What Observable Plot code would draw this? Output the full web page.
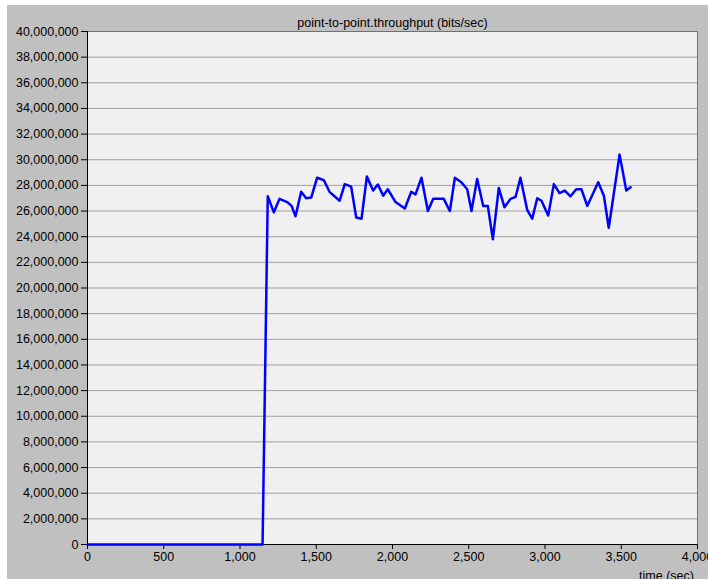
<!DOCTYPE html>
<html><head><meta charset="utf-8">
<script src="https://cdn.jsdelivr.net/npm/d3@7"></script>
<script src="https://cdn.jsdelivr.net/npm/@observablehq/plot@0.6"></script>
<style>
body{margin:0;background:#fff;}
#wrap{position:relative;width:708px;height:579px;background:#fff;overflow:hidden}
#chart{position:absolute;left:7px;top:5px;}
</style></head><body><div id="wrap"><div id="chart"></div></div>
<script>
const chartTitle = "point-to-point.throughput (bits/sec)";
const xLabel = "time (sec)";
const times = [0, 1148, 1182, 1222, 1259, 1310, 1338, 1364, 1401, 1434, 1467, 1506, 1550, 1587, 1653, 1687, 1729, 1762, 1797, 1832, 1873, 1904, 1939, 1969, 2020, 2081, 2123, 2151, 2190, 2232, 2267, 2336, 2376, 2409, 2451, 2490, 2518, 2555, 2595, 2625, 2658, 2697, 2734, 2774, 2807, 2839, 2883, 2916, 2949, 2977, 3021, 3058, 3095, 3130, 3167, 3205, 3239, 3277, 3349, 3386, 3418, 3489, 3533, 3561];
const throughput = [0, 0, 27160000, 25900000, 26950000, 26700000, 26400000, 25600000, 27500000, 27000000, 27050000, 28600000, 28400000, 27500000, 26800000, 28100000, 27900000, 25500000, 25400000, 28700000, 27600000, 28070000, 27200000, 27700000, 26700000, 26200000, 27500000, 27300000, 28600000, 26000000, 26950000, 26950000, 26000000, 28600000, 28250000, 27700000, 26000000, 28500000, 26400000, 26400000, 23800000, 27800000, 26300000, 26950000, 27100000, 28600000, 26100000, 25400000, 27000000, 26800000, 25650000, 28100000, 27400000, 27600000, 27150000, 27700000, 27700000, 26400000, 28250000, 27200000, 24700000, 30400000, 27600000, 27850000];
const xTicks = [0, 500, 1000, 1500, 2000, 2500, 3000, 3500, 4000];
const yTicks = d3.range(0, 40000001, 2000000);

const data = times.map((t, i) => ({t, v: throughput[i]}));
const fmt = d3.format(",");

const chart = Plot.plot({
  width: 701,
  height: 574,
  marginLeft: 80,
  marginRight: 11,
  marginTop: 26,
  marginBottom: 35,
  style: {background: "#c0c0c0", fontFamily: "Liberation Sans, Arial, sans-serif", fontSize: "12.5px", color: "#000", overflow: "visible"},
  x: {domain: [0, 4000]},
  y: {domain: [0, 40000000]},
  marks: [
    Plot.frame({fill: "#f0f0f0", stroke: null}),
    Plot.ruleY(yTicks.slice(1), {stroke: "#a0a0a0", strokeWidth: 1}),
    Plot.frame({stroke: "#707070"}),
    Plot.axisY({ticks: yTicks, tickFormat: fmt, tickSize: 6, tickPadding: 3, label: null, fontSize: 12.5}),
    Plot.axisX({ticks: xTicks, tickFormat: fmt, tickSize: 5, tickPadding: 3, label: null, fontSize: 12.5}),
    Plot.ruleX([0], {stroke: "#000"}),
    Plot.ruleY([0], {stroke: "#000"}),
    Plot.line(data, {x: "t", y: "v", stroke: "#0000ff", strokeWidth: 2.5, strokeLinejoin: "round"}),
    Plot.text([chartTitle], {frameAnchor: "top", dy: -5, lineAnchor: "bottom", fontSize: 12.5}),
    Plot.text([xLabel], {frameAnchor: "bottom-right", dx: -31, dy: 35, lineAnchor: "bottom", textAnchor: "middle", fontSize: 12.5})
  ]
});
document.getElementById("chart").appendChild(chart);
</script>
</body></html>
